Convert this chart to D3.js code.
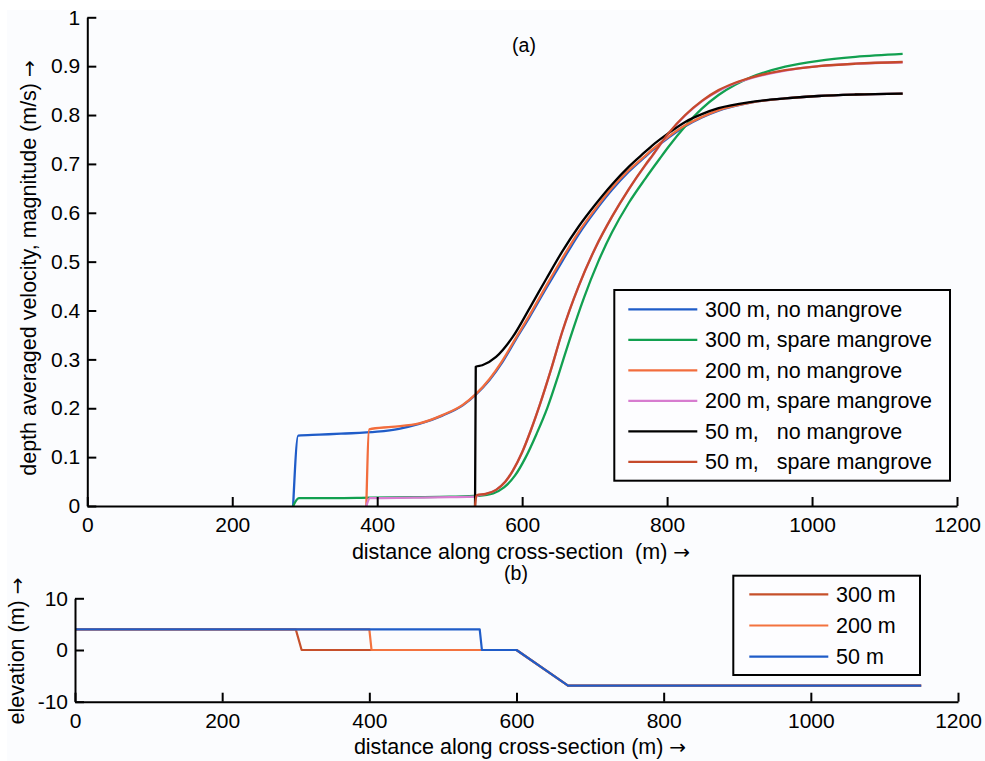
<!DOCTYPE html>
<html>
<head>
<meta charset="utf-8">
<script src="https://cdn.jsdelivr.net/npm/d3@7"></script>
<style>
  html, body { margin: 0; padding: 0; background: #ffffff; }
  svg { display: block; }
  text { font-family: "Liberation Sans", Arial, Helvetica, sans-serif; fill: #000; }
  .arr { font-family: "DejaVu Sans", sans-serif; }
</style>
</head>
<body>
<svg id="chart" width="985" height="761"></svg>
<script>
// ---------- DATA: panel (a) depth averaged velocity ----------
const seriesNames = ["300 m, no mangrove", "300 m, spare mangrove", "200 m, no mangrove",
                     "200 m, spare mangrove", "50 m,   no mangrove", "50 m,   spare mangrove"];
const seriesColors = ["#1f5cc8", "#12a050", "#f26d3d", "#d77ccf", "#000000", "#c64a2b"];

const blue300No = [[284,0],[291,0.144],[320,0.146],[350,0.148],[400,0.152],[430,0.158],[458,0.168],[490,0.185],[518,0.206],[536,0.228],[555,0.258],[573,0.295],[591,0.34],[610,0.386],[633,0.445],[655,0.5],[678,0.556],[701,0.604],[724,0.647],[747,0.684],[770,0.715],[780,0.728],[803,0.755],[825,0.777],[848,0.795],[871,0.809],[917,0.826],[963,0.834],[1009,0.839],[1060,0.842],[1125,0.844]];
const green300Spare = [[284,0],[292,0.016],[340,0.016],[390,0.017],[450,0.018],[500,0.019],[540,0.021],[560,0.026],[575,0.038],[590,0.062],[605,0.1],[620,0.148],[635,0.202],[650,0.268],[665,0.338],[685,0.425],[705,0.5],[724,0.56],[747,0.62],[770,0.67],[790,0.711],[802,0.735],[825,0.777],[848,0.813],[871,0.841],[894,0.862],[917,0.878],[963,0.899],[1009,0.911],[1060,0.919],[1125,0.925]];
const orange200No = [[385,0],[389,0.157],[420,0.162],[458,0.169],[490,0.186],[518,0.207],[536,0.229],[555,0.26],[573,0.298],[591,0.343],[610,0.39],[633,0.45],[655,0.506],[678,0.561],[701,0.608],[724,0.651],[747,0.687],[770,0.717],[780,0.73],[803,0.757],[825,0.779],[848,0.796],[871,0.81],[917,0.826],[963,0.834],[1009,0.839],[1060,0.842],[1125,0.844]];
const pink200Spare = [[385,0],[390,0.016],[450,0.017],[500,0.018],[535,0.019],[540,0.022],[550,0.025],[564,0.033],[577,0.05],[587,0.072],[600,0.11],[612,0.155],[625,0.21],[640,0.28],[655,0.355],[678,0.45],[701,0.528],[724,0.592],[747,0.648],[770,0.697],[780,0.717],[802,0.762],[825,0.799],[848,0.828],[871,0.849],[894,0.865],[917,0.876],[963,0.891],[1009,0.9],[1060,0.905],[1125,0.908]];
const black50No = [[535,0],[536,0.285],[545,0.288],[564,0.305],[587,0.346],[610,0.404],[633,0.464],[655,0.52],[678,0.572],[701,0.617],[724,0.658],[747,0.694],[770,0.725],[779,0.737],[802,0.763],[825,0.786],[848,0.802],[871,0.814],[917,0.827],[963,0.834],[1009,0.839],[1060,0.842],[1125,0.844]];
const red50Spare = [[535,0],[537,0.022],[550,0.025],[564,0.033],[577,0.05],[587,0.072],[600,0.11],[612,0.155],[625,0.21],[640,0.28],[655,0.355],[678,0.45],[701,0.528],[724,0.592],[747,0.648],[770,0.698],[780,0.718],[802,0.763],[825,0.8],[848,0.829],[871,0.851],[894,0.866],[917,0.877],[963,0.892],[1009,0.9],[1060,0.905],[1125,0.9085]];
const velocitySeries = [blue300No, green300Spare, orange200No, pink200Spare, black50No, red50Spare];

const xTicksA = [0, 200, 400, 600, 800, 1000, 1200];
const xTickLabelsA = ["0", "200", "400", "600", "800", "1000", "1200"];
const yTicksA = [0, 0.1, 0.2, 0.3, 0.4, 0.5, 0.6, 0.7, 0.8, 0.9, 1];
const yTickLabelsA = ["0", "0.1", "0.2", "0.3", "0.4", "0.5", "0.6", "0.7", "0.8", "0.9", "1"];

// ---------- DATA: panel (b) elevation ----------
const profileNames = ["300 m", "200 m", "50 m"];
const profileColors = ["#c6502b", "#f3733f", "#1f5cc8"];
const profile300 = [[0,4],[300,4],[308,0],[600,0],[670,-6.9],[1150,-6.9]];
const profile200 = [[0,4],[400,4],[403,0],[600,0],[670,-6.9],[1150,-6.9]];
const profile50  = [[0,4],[550,4],[553,0],[600,0],[670,-6.9],[1150,-6.9]];
const profileSeries = [profile300, profile200, profile50];

const xTicksB = [0, 200, 400, 600, 800, 1000, 1200];
const xTickLabelsB = ["0", "200", "400", "600", "800", "1000", "1200"];
const yTicksB = [-10, 0, 10];
const yTickLabelsB = ["-10", "0", "10"];

// ---------- DRAW ----------
const svg = d3.select("#chart");
svg.append("rect").attr("x", 7).attr("y", 10).attr("width", 978).attr("height", 751).attr("fill", "#fbfcfe");

const FS = 21.5;

function styleAxis(g) {
  g.selectAll("path.domain").attr("stroke", "#000").attr("stroke-width", 2);
  g.selectAll(".tick line").attr("stroke", "#000").attr("stroke-width", 2);
  g.selectAll(".tick text").style("font-size", "21px").attr("fill", "#000");
  g.attr("font-family", null).attr("font-size", null);
}

function labelWithArrow(sel, txt) {
  sel.append("tspan").text(txt);
  sel.append("tspan").attr("class", "arr").style("font-size", "20px").text("\u2192");
}

// Panel (a)
const xA = d3.scaleLinear().domain([0, 1200]).range([87.3, 957]);
const yA = d3.scaleLinear().domain([0, 1]).range([506, 17.3]);

const lineA = d3.line().x(d => xA(d[0])).y(d => yA(d[1])).curve(d3.curveMonotoneX);
const gA = svg.append("g");
velocitySeries.forEach((s, i) => {
  gA.append("path").attr("d", lineA(s)).attr("fill", "none")
    .attr("stroke", seriesColors[i]).attr("stroke-width", 2.3).attr("stroke-linejoin", "round");
});

const axXA = svg.append("g").attr("transform", `translate(0,${yA(0)})`)
  .call(d3.axisBottom(xA).tickValues(xTicksA).tickFormat((d, i) => xTickLabelsA[i])
    .tickSizeInner(-9).tickSizeOuter(0).tickPadding(11));
styleAxis(axXA);
const axYA = svg.append("g").attr("transform", `translate(${xA(0)},0)`)
  .call(d3.axisLeft(yA).tickValues(yTicksA).tickFormat((d, i) => yTickLabelsA[i])
    .tickSizeInner(-9).tickSizeOuter(0).tickPadding(7));
styleAxis(axYA);

svg.append("text").attr("x", 524).attr("y", 52).attr("text-anchor", "middle")
  .style("font-size", "19.5px").text("(a)");
labelWithArrow(svg.append("text").attr("transform", "translate(36,268) rotate(-90)").attr("text-anchor", "middle")
  .style("font-size", FS + "px").attr("xml:space", "preserve"), "depth averaged velocity, magnitude (m/s) ");
labelWithArrow(svg.append("text").attr("x", 521).attr("y", 559).attr("text-anchor", "middle")
  .style("font-size", FS + "px").attr("xml:space", "preserve"), "distance along cross-section  (m) ");

// Legend (a)
const legA = svg.append("g");
legA.append("rect").attr("x", 614.3).attr("y", 290).attr("width", 335.7).attr("height", 190.7)
  .attr("fill", "#fdfdff").attr("stroke", "#000").attr("stroke-width", 2);
seriesNames.forEach((n, i) => {
  const yy = 309.3 + i * 30.5;
  legA.append("line").attr("x1", 628.3).attr("x2", 697.3).attr("y1", yy).attr("y2", yy)
    .attr("stroke", seriesColors[i]).attr("stroke-width", 2.2);
  legA.append("text").attr("x", 705).attr("y", yy + 7.5).style("font-size", FS + "px")
    .style("white-space", "pre").text(n);
});

// Panel (b)
const xB = d3.scaleLinear().domain([0, 1200]).range([75, 958]);
const yB = d3.scaleLinear().domain([-10, 10]).range([701.7, 598.3]);
const lineB = d3.line().x(d => xB(d[0])).y(d => yB(d[1]));
const gB = svg.append("g");
profileSeries.forEach((s, i) => {
  gB.append("path").attr("d", lineB(s)).attr("fill", "none")
    .attr("stroke", profileColors[i]).attr("stroke-width", 2.2).attr("stroke-linejoin", "round");
});

const axXB = svg.append("g").attr("transform", `translate(0,${yB(-10)})`)
  .call(d3.axisBottom(xB).tickValues(xTicksB).tickFormat((d, i) => xTickLabelsB[i])
    .tickSizeInner(-9).tickSizeOuter(0).tickPadding(11));
styleAxis(axXB);
const axYB = svg.append("g").attr("transform", `translate(${xB(0)},0)`)
  .call(d3.axisLeft(yB).tickValues(yTicksB).tickFormat((d, i) => yTickLabelsB[i])
    .tickSizeInner(-9).tickSizeOuter(0).tickPadding(7));
styleAxis(axYB);

svg.append("text").attr("x", 516).attr("y", 580).attr("text-anchor", "middle")
  .style("font-size", "19.5px").text("(b)");
labelWithArrow(svg.append("text").attr("transform", "translate(24,651) rotate(-90)").attr("text-anchor", "middle")
  .style("font-size", FS + "px").attr("xml:space", "preserve"), "elevation (m) ");
labelWithArrow(svg.append("text").attr("x", 520).attr("y", 754).attr("text-anchor", "middle")
  .style("font-size", FS + "px").attr("xml:space", "preserve"), "distance along cross-section (m) ");

// Legend (b)
const legB = svg.append("g");
legB.append("rect").attr("x", 733.3).attr("y", 575.7).attr("width", 186.7).attr("height", 99.3)
  .attr("fill", "#fdfdff").attr("stroke", "#000").attr("stroke-width", 2);
profileNames.forEach((n, i) => {
  const yy = 594.3 + i * 31.2;
  legB.append("line").attr("x1", 749.3).attr("x2", 828.3).attr("y1", yy).attr("y2", yy)
    .attr("stroke", profileColors[i]).attr("stroke-width", 2.2);
  legB.append("text").attr("x", 836).attr("y", yy + 7.5).style("font-size", FS + "px").text(n);
});
</script>
</body>
</html>
